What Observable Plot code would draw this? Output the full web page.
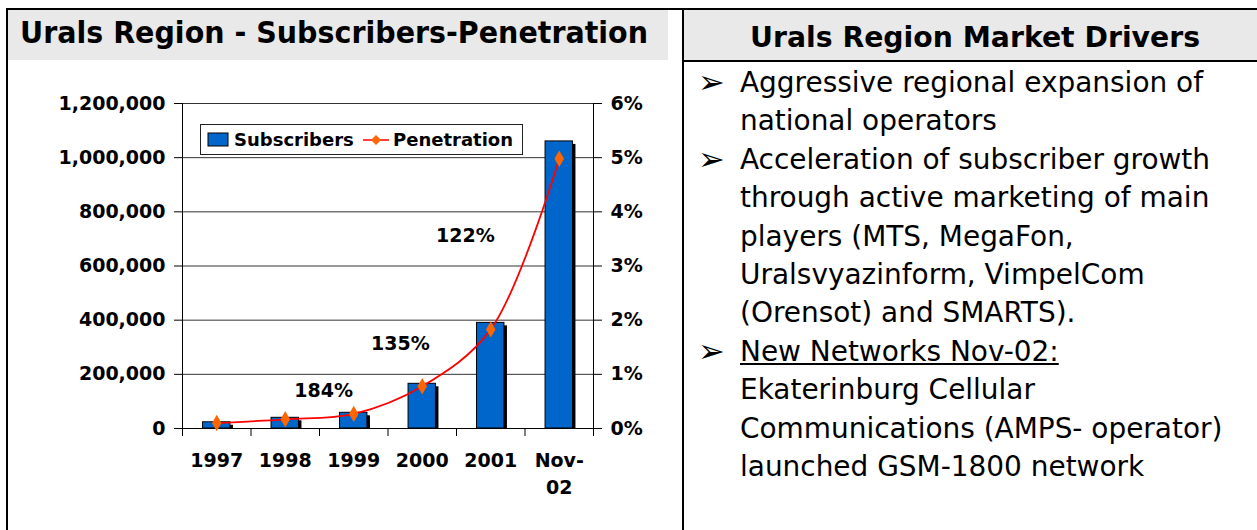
<!DOCTYPE html>
<html>
<head>
<meta charset="utf-8">
<script src="https://cdn.jsdelivr.net/npm/d3@7"></script>
<script src="https://cdn.jsdelivr.net/npm/@observablehq/plot@0.6"></script>
<style>
  body { margin: 0; background: #fff; }
  #page { position: relative; width: 1257px; height: 530px; overflow: hidden; background: #fff; font-family: "DejaVu Sans", sans-serif; color: #000; }
  .abs { position: absolute; }
  .fit { display: inline-block; white-space: nowrap; transform-origin: left center; }
  #chart { position: absolute; left: 0; top: 60px; }
  .line { position: absolute; left: 0; white-space: nowrap; font-size: 29px; line-height: 38.4px; }
</style>
</head>
<body>
<div id="page">
  <div class="abs" style="left:8px;top:10px;width:660px;height:50px;background:#e9e9e9"></div>
  <div class="abs" style="left:684px;top:10px;width:573px;height:51px;background:#e9e9e9"></div>
  <div class="abs" style="left:6px;top:8px;width:1251px;height:2px;background:#000"></div>
  <div class="abs" style="left:6px;top:8px;width:2px;height:522px;background:#000"></div>
  <div class="abs" style="left:682px;top:8px;width:2px;height:522px;background:#000"></div>
  <div class="abs" style="left:684px;top:60px;width:573px;height:2px;background:#000"></div>
  <div class="abs" style="left:20px;top:13px;height:40px;line-height:40px;font-size:30px;font-weight:bold"><span class="fit" id="t1">Urals Region - Subscribers-Penetration</span></div>
  <div class="abs" style="left:750px;top:18px;height:40px;line-height:40px;font-size:28px;font-weight:bold"><span class="fit" id="t2">Urals Region Market Drivers</span></div>
  <div id="chart"></div>
  <div id="legend" class="abs" style="left:200px;top:124px;width:321px;height:29px;border:1px solid #222;background:#fff;font-size:18px;font-weight:bold;line-height:29px">
    <svg class="abs" style="left:0;top:0" width="321" height="29">
      <rect x="7" y="8" width="20" height="13" fill="#0066CC" stroke="#000"/>
      <line x1="162" x2="188" y1="15" y2="15" stroke="#FF0000" stroke-width="1.5"/>
      <path d="M175,10 L180,15 L175,20 L170,15 Z" fill="#FF6600"/>
    </svg>
    <span class="abs" style="left:33px;top:0">Subscribers</span>
    <span class="abs" style="left:192px;top:0">Penetration</span>
  </div>
  <div id="text" class="abs" style="left:700px;top:63px;width:557px;height:460px"></div>
</div>
<script>
// ---- data ----
const categories = ["1997", "1998", "1999", "2000", "2001", "Nov-02"];
const xLabels = ["1997", "1998", "1999", "2000", "2001", "Nov-\n02"];
const subscribers = [23000, 39500, 58000, 165000, 390000, 1060000];
const penetrationPct = [0.10, 0.17, 0.27, 0.78, 1.83, 4.98];
const leftTicks = [0, 200000, 400000, 600000, 800000, 1000000, 1200000];
const rightTicks = [0, 1, 2, 3, 4, 5, 6];
const growthLabels = ["184%", "135%", "122%"];
const growthAnchorX = [1.56, 2.68, 3.63];
const growthAnchorY = [140000, 314000, 712000];

const bulletLines = [
  {text: "Aggressive regional expansion of", bullet: true},
  {text: "national operators"},
  {text: "Acceleration of subscriber growth", bullet: true},
  {text: "through active marketing of main"},
  {text: "players (MTS, MegaFon,"},
  {text: "Uralsvyazinform, VimpelCom"},
  {text: "(Orensot) and SMARTS)."},
  {text: "New Networks Nov-02:", bullet: true, underline: true},
  {text: "Ekaterinburg Cellular"},
  {text: "Communications (AMPS- operator)"},
  {text: "launched GSM-1800 network"}
];

const ratio = 1200000 / 6; // 6% on the right axis equals 1,200,000 on the left axis
const data = categories.map((c, i) => ({i, cat: c, subs: subscribers[i], pen: penetrationPct[i] * ratio}));
const growth = growthLabels.map((t, k) => ({t, x: growthAnchorX[k], y: growthAnchorY[k]}));
const boundaries = d3.range(-0.5, categories.length, 1);
const half = 0.2;

const chart = Plot.plot({
  width: 683,
  height: 470,
  marginLeft: 182,
  marginRight: 90,
  marginTop: 43,
  marginBottom: 102,
  style: {fontFamily: "DejaVu Sans", fontSize: "19px", fontWeight: "bold", color: "#000", background: "transparent", overflow: "visible"},
  x: {type: "linear", domain: [-0.5, categories.length - 0.5]},
  y: {domain: [0, 1200000]},
  marks: [
    Plot.gridY(leftTicks, {stroke: "#333", strokeOpacity: 1, strokeWidth: 1}),
    Plot.rectY(data, {x1: d => d.i - half, x2: d => d.i + half, y1: 0, y2: "subs", fill: "#000", dx: 3, dy: 3, insetBottom: 3}),
    Plot.rectY(data, {x1: d => d.i - half, x2: d => d.i + half, y1: 0, y2: "subs", fill: "#0066CC", stroke: "#000", strokeWidth: 1}),
    Plot.ruleY([0], {stroke: "#000"}),
    Plot.ruleX([-0.5, categories.length - 0.5], {y1: 0, y2: 1200000, stroke: "#000"}),
    Plot.axisX({ticks: boundaries, tickSize: 8, tickFormat: () => "", stroke: "#000"}),
    Plot.axisX({ticks: d3.range(categories.length), tickSize: 0, tickPadding: 19, tickFormat: i => xLabels[i], lineHeight: 1.42}),
    Plot.axisY({ticks: leftTicks, tickSize: 8, tickPadding: 9, tickFormat: d3.format(",")}),
    Plot.axisY({anchor: "right", ticks: rightTicks.map(p => p * ratio), tickSize: 8, tickPadding: 9, tickFormat: v => Math.round(v / ratio) + "%"}),
    Plot.line(data, {x: "i", y: "pen", stroke: "#FF0000", strokeWidth: 1.8, curve: "catmull-rom"}),
    Plot.dot(data, {x: "i", y: "pen", symbol: "diamond", fill: "#FF6600", r: 5}),
    Plot.text(growth, {x: "x", y: "y", text: "t", fontSize: 19, fontWeight: "bold", fill: "#000"})
  ]
});
document.getElementById("chart").appendChild(chart);

// right panel text
const textBox = document.getElementById("text");
bulletLines.forEach((l, k) => {
  const div = document.createElement("div");
  div.className = "line";
  div.style.top = (k * 38.4) + "px";
  if (l.bullet) {
    const b = document.createElement("span");
    b.textContent = "➢";
    b.style.position = "absolute";
    b.style.left = "-2px";
    b.style.fontSize = "32px";
    div.appendChild(b);
  }
  const s = document.createElement("span");
  s.className = "fit body";
  s.textContent = l.text;
  s.style.position = "absolute";
  s.style.left = "40px";
  if (l.underline) s.style.textDecoration = "underline";
  div.appendChild(s);
  textBox.appendChild(div);
});

// horizontal fit of text to reference widths
function fit(el, w) {
  const cur = el.getBoundingClientRect().width;
  el.style.transform = `scaleX(${w / cur})`;
}
fit(document.getElementById("t1"), 628);
fit(document.getElementById("t2"), 450);
const bodies = Array.from(document.querySelectorAll(".body"));
const ref = bodies[2];
const k = 470 / ref.getBoundingClientRect().width;
bodies.forEach(b => b.style.transform = `scaleX(${k})`);
</script>
</body>
</html>
